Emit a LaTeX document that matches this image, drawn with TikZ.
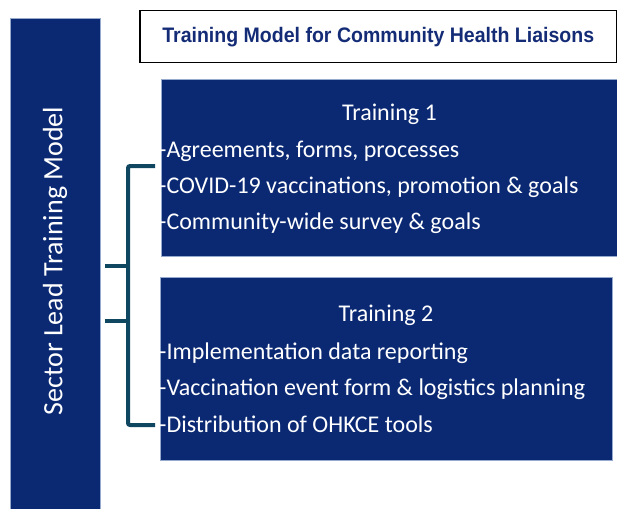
\documentclass[tikz,border=0pt]{standalone}
\usepackage{fontspec}
\setmainfont{Carlito}
\newfontfamily\titlefont{Liberation Sans}[FakeStretch=0.93]
\usetikzlibrary{positioning, calc}
\definecolor{navy}{RGB}{11,41,115}
\definecolor{edgeblue}{RGB}{150,170,205}
\definecolor{teal}{RGB}{15,71,97}
\definecolor{titleblue}{RGB}{20,44,118}
\tikzset{
    panel/.style={draw=edgeblue, line width=0.6pt, fill=navy, anchor=north west,
        inner sep=0pt, outer sep=0pt},
    item/.style={anchor=base west, inner sep=0pt, text=white, font=\fontsize{24}{28}\selectfont},
    head/.style={anchor=base, inner sep=0pt, text=white, font=\fontsize{24}{28}\selectfont},
    brace/.style={draw=teal, line width=4pt, rounded corners=2pt},
}

\begin{document}
\begin{tikzpicture}[x=1pt, y=-1pt]
    \useasboundingbox (0,0) rectangle (617,508);

    \node[panel, minimum width=90pt, minimum height=492pt] (bar) at (10,18) {};
    \node[rotate=90, text=white, font=\fontsize{28}{32}\selectfont] (barlabel) at ($(bar.north)!0.5!(bar.south)+(0,-3)$) {Sector Lead Training Model};

    \node[draw=black, line width=1.5pt, anchor=north west, minimum width=477pt, minimum height=52pt,
        inner sep=0pt, font=\titlefont\bfseries\fontsize{21}{25}\selectfont, text=titleblue]
        (title) at (139,10) {Training Model for Community Health Liaisons};

    \node[panel, minimum width=457pt, minimum height=177pt] (t1) at (161,79) {};
    \node[panel, minimum width=452pt, minimum height=183pt] (t2) at (160,277) {};

    \node[head] (t1h) at (t1.center |- 0,120) {Training 1};
    \node[item] (t1a) at (159,157) {-Agreements, forms, processes};
    \node[item] (t1b) at (159,193) {-COVID-19 vaccinations, promotion \& goals};
    \node[item] (t1c) at (159,229) {-Community-wide survey \& goals};

    \node[head] (t2h) at (t2.center |- 0,321) {Training 2};
    \node[item] (t2a) at (159,359) {-Implementation data reporting};
    \node[item] (t2b) at (159,395) {-Vaccination event form \& logistics planning};
    \node[item] (t2c) at (159,432) {-Distribution of OHKCE tools};

    % bracket
    \coordinate (top) at (155,166);
    \coordinate (bot) at (155,425);
    \coordinate (m1) at (105,266);
    \coordinate (m2) at (105,321);
    \draw[brace] (top) -- (128,166) -- (128,425) -- (bot);
    \draw[brace] (m1) -- (128,266);
    \draw[brace] (m2) -- (128,321);
\end{tikzpicture}
\end{document}
